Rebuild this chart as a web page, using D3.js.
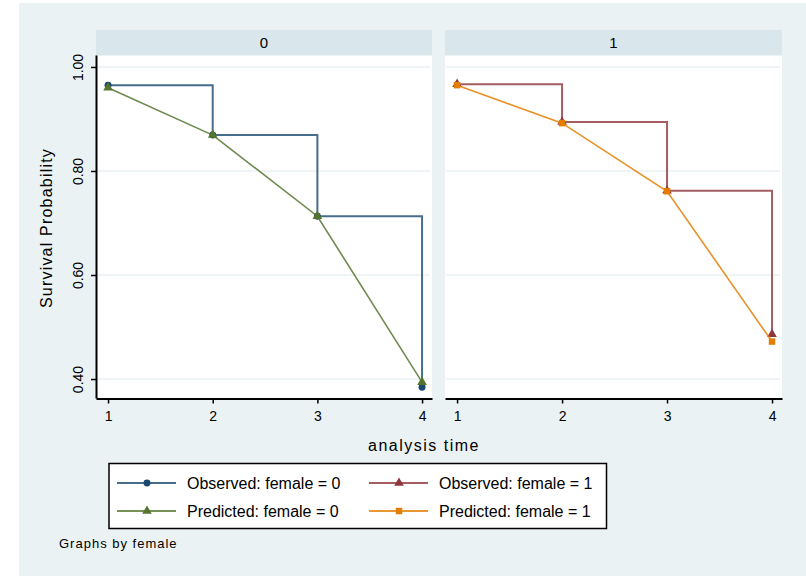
<!DOCTYPE html>
<html><head><meta charset="utf-8">
<script src="https://cdn.jsdelivr.net/npm/d3@7"></script>
<style>
html,body{margin:0;padding:0;background:#fff;}
svg text{font-family:"Liberation Sans",Arial,sans-serif;fill:#000;}
</style></head>
<body>
<svg id="chart" width="806" height="576"></svg>
<script>
const times = [1, 2, 3, 4];
const panels = ["0", "1"];
const observed0 = [0.965, 0.869, 0.713, 0.384];
const predicted0 = [0.960, 0.869, 0.713, 0.394];
const observed1 = [0.967, 0.894, 0.762, 0.486];
const predicted1 = [0.965, 0.892, 0.761, 0.472];
const yTicks = [0.40, 0.60, 0.80, 1.00];
const legendLabels = ["Observed: female = 0", "Observed: female = 1", "Predicted: female = 0", "Predicted: female = 1"];
const colors = {obs0:"#1a476f", obs1:"#90353b", pred0:"#55752f", pred1:"#e37e00"};

const svg = d3.select("#chart");
svg.append("rect").attr("x",19).attr("y",3).attr("width",787).attr("height",573).attr("fill","#eaf2f3");

const y = d3.scaleLinear().domain([0.3635, 1.023]).range([398, 55]);
const panelBoxes = [{x0:96, x1:432}, {x0:445, x1:782}];
const seriesByPanel = [
  {obs: observed0, pred: predicted0, oc: colors.obs0, pc: colors.pred0, om:"circle", pm:"triangle"},
  {obs: observed1, pred: predicted1, oc: colors.obs1, pc: colors.pred1, om:"triangle", pm:"square"}
];

function marker(g, type, cx, cy, color){
  let sym = type==="circle" ? d3.symbolCircle : type==="square" ? d3.symbolSquare : d3.symbolTriangle;
  let size = type==="square" ? 42 : type==="circle" ? 38 : 40;
  g.append("path").attr("d", d3.symbol().type(sym).size(size)())
    .attr("transform",`translate(${cx},${cy})`).attr("fill",color);
}

panels.forEach((p, i) => {
  const b = panelBoxes[i];
  const x = d3.scaleLinear().domain([0.885, 4.095]).range([b.x0, b.x1]);
  const g = svg.append("g");
  // header
  g.append("rect").attr("x",b.x0).attr("y",30).attr("width",b.x1-b.x0).attr("height",25).attr("fill","#d9e6eb");
  g.append("text").attr("x",(b.x0+b.x1)/2).attr("y",48).attr("text-anchor","middle").attr("font-size",15).text(p);
  // plot area
  g.append("rect").attr("x",b.x0).attr("y",56).attr("width",b.x1-b.x0).attr("height",342).attr("fill","#fff");
  // grid
  g.selectAll(".grid").data(yTicks).enter().append("line")
    .attr("x1",b.x0+1).attr("x2",b.x1-2).attr("y1",d=>y(d)).attr("y2",d=>y(d))
    .attr("stroke","#eaf2f3").attr("stroke-width",1.5);
  // x axis
  const xa = g.append("g").attr("transform","translate(0,398.5)")
    .call(d3.axisBottom(x).tickValues(times).tickSize(5).tickSizeOuter(0).tickPadding(8).tickFormat(d3.format("d")));
  xa.select(".domain").attr("stroke","#000").attr("stroke-width",2);
  xa.selectAll(".tick line").attr("stroke","#000").attr("stroke-width",1.5);
  xa.selectAll(".tick text").attr("font-size",14).attr("font-family","Liberation Sans, Arial, sans-serif");
  if(i===0){
    const ya = g.append("g").attr("transform",`translate(${b.x0},0)`)
      .call(d3.axisLeft(y).tickValues(yTicks).tickSize(5).tickSizeOuter(0).tickFormat(d3.format(".2f")));
    ya.select(".domain").attr("stroke","#000").attr("stroke-width",2);
    ya.selectAll(".tick line").attr("stroke","#000").attr("stroke-width",1.5);
    ya.selectAll(".tick text").attr("font-size",14).attr("font-family","Liberation Sans, Arial, sans-serif")
      .attr("text-anchor","middle").attr("transform","rotate(-90)")
      .attr("x",0).attr("y",-13).attr("dy",null);
  }
  const s = seriesByPanel[i];
  const obsLine = d3.line().x((d,k)=>x(times[k])).y(d=>y(d)).curve(d3.curveStepAfter);
  const predLine = d3.line().x((d,k)=>x(times[k])).y(d=>y(d));
  g.append("path").attr("d",obsLine(s.obs)).attr("fill","none").attr("stroke",s.oc).attr("stroke-width",2).attr("stroke-opacity",0.8);
  s.obs.forEach((v,k)=>marker(g, s.om, x(times[k]), y(v), s.oc));
  g.append("path").attr("d",predLine(s.pred)).attr("fill","none").attr("stroke",s.pc).attr("stroke-width",1.6).attr("stroke-opacity",0.85);
  s.pred.forEach((v,k)=>marker(g, s.pm, x(times[k]), y(v), s.pc));
});

// axis titles
svg.append("text").attr("x",424).attr("y",451).attr("text-anchor","middle").attr("font-size",16).attr("letter-spacing",1.5).text("analysis time");
svg.append("text").attr("transform","translate(52,228) rotate(-90)").attr("text-anchor","middle").attr("font-size",16).attr("letter-spacing",1.2).text("Survival Probability");

// legend
const lg = svg.append("g");
lg.append("rect").attr("x",109).attr("y",463.5).attr("width",497.5).attr("height",65).attr("fill","#fff").attr("stroke","#000").attr("stroke-width",1.5);
const legendItems = [
  {label:legendLabels[0], c:colors.obs0, m:"circle", col:0, row:0},
  {label:legendLabels[1], c:colors.obs1, m:"triangle", col:1, row:0},
  {label:legendLabels[2], c:colors.pred0, m:"triangle", col:0, row:1},
  {label:legendLabels[3], c:colors.pred1, m:"square", col:1, row:1}
];
legendItems.forEach(it=>{
  const lx = it.col===0 ? 117 : 369;
  const ly = it.row===0 ? 483 : 511;
  lg.append("line").attr("x1",lx).attr("x2",lx+59).attr("y1",ly).attr("y2",ly).attr("stroke",it.c).attr("stroke-width",2).attr("stroke-opacity",0.8);
  marker(lg, it.m, lx+30, ly, it.c);
  lg.append("text").attr("x",lx+70).attr("y",ly+5.5).attr("font-size",16).text(it.label);
});
svg.append("text").attr("x",59).attr("y",548).attr("font-size",13).attr("letter-spacing",1).text("Graphs by female");
</script>
</body></html>
